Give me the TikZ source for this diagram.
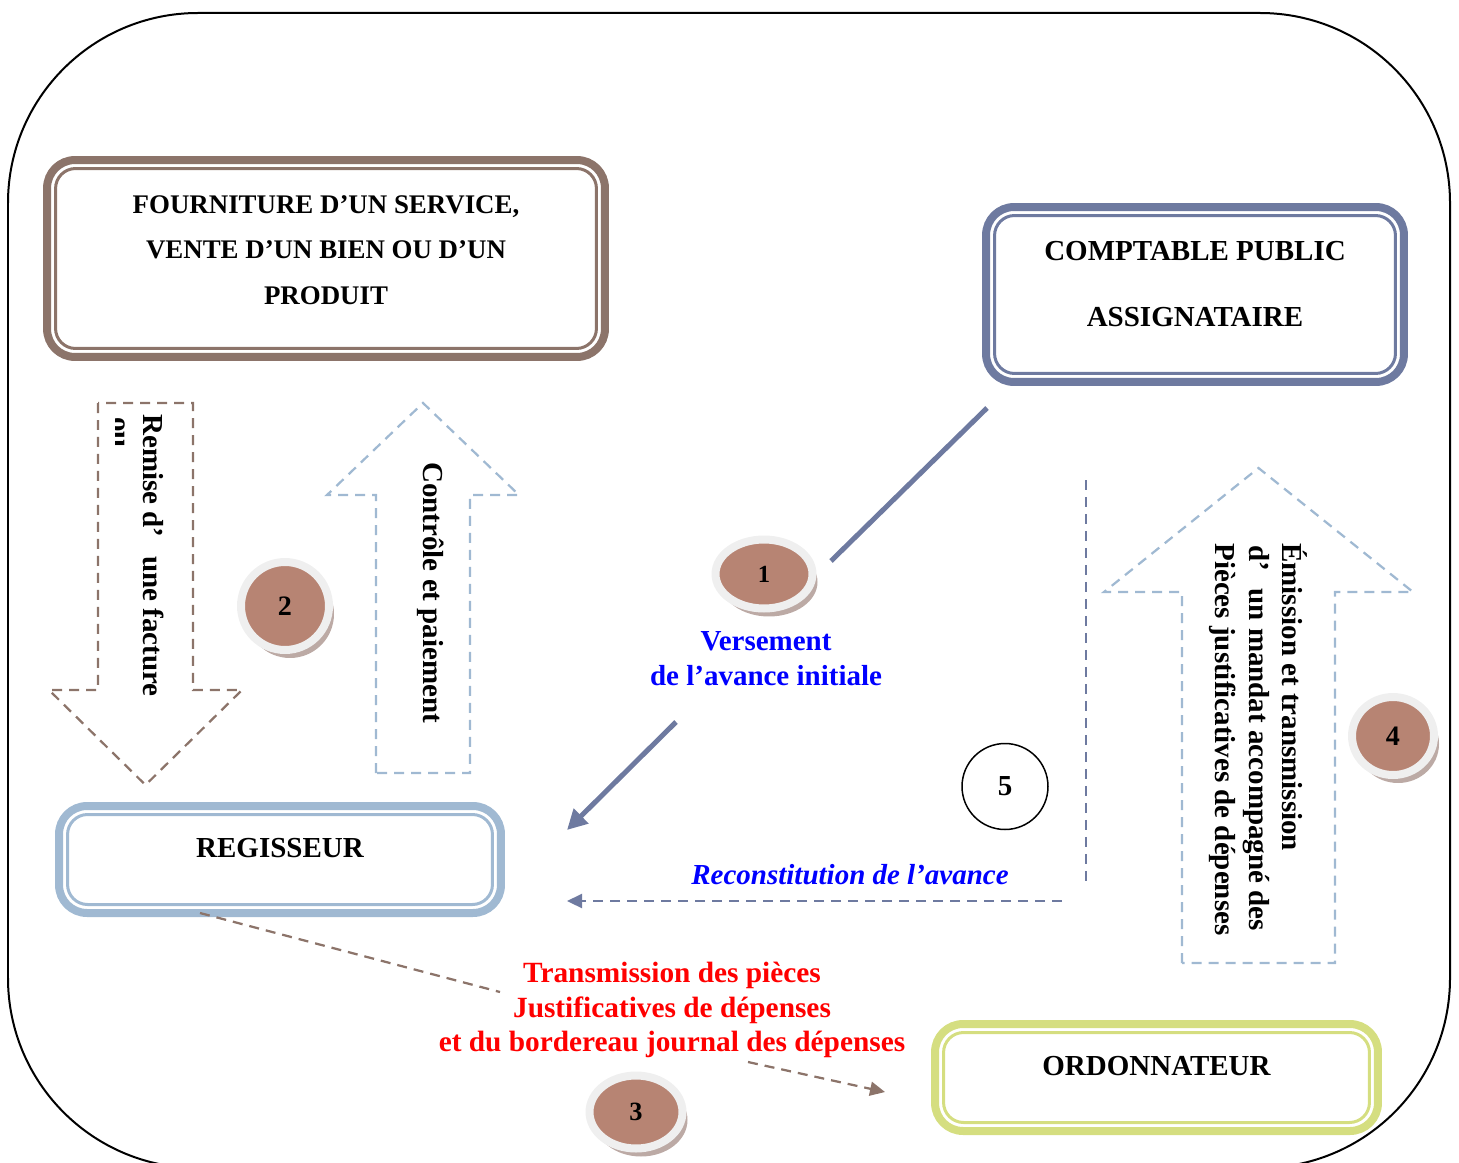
\documentclass[tikz,border=0pt]{standalone}
\usepackage{fontspec}
\setmainfont{Liberation Serif}
\definecolor{boxbrown}{HTML}{8C746A}
\definecolor{boxslate}{HTML}{6E7AA0}
\definecolor{boxsky}{HTML}{A0B9D2}
\definecolor{boxolive}{HTML}{D5DE80}
\definecolor{badgefill}{HTML}{B78473}
\definecolor{badgering}{HTML}{EFEFEF}
\definecolor{badgeshade}{HTML}{BCAAA5}
\usetikzlibrary{arrows.meta, shapes.geometric, shadows, calc}
\newcommand{\innerline}[2]
{
	\draw[draw=#2, line width=0.06cm, rounded corners=0.4cm] ([shift={(0.17cm,-0.17cm)}]#1.north west) rectangle ([shift={(-0.17cm,0.17cm)}]#1.south east)
}
\newcommand{\blockarrow}[7]
{
	\draw[#1] ({#2-#3},#5) -- ({#2-#3},#6) -- ({#2-#4},#6) -- (#2,#7) -- ({#2+#4},#6) -- ({#2+#3},#6) -- ({#2+#3},#5) -- cycle
}

\begin{document}
\begin{tikzpicture}[x=0.02cm, y=-0.02cm,
	boxnode/.style={shape=rectangle, line width=0.16cm, outer sep=0pt, inner sep=0pt, rounded corners=0.56cm},
	boxtext/.style={align=center, inner sep=0pt, font=\bfseries\fontsize{16.5}{20}\selectfont},
	badge/.style={shape=ellipse, fill=badgefill, draw=badgering, line width=0.16cm, inner sep=0pt,
		font=\bfseries\fontsize{16}{18}\selectfont,
		drop shadow={shadow xshift=0.1cm, shadow yshift=-0.16cm, fill=badgeshade, opacity=1}},
	vtext/.style={rotate=-90, anchor=base west, inner sep=0pt, font=\bfseries\fontsize{16.5}{20}\selectfont},
	bluetext/.style={text=blue, align=center, inner sep=0pt, font=\bfseries\fontsize{16.5}{20}\selectfont},
	redtext/.style={text=red, align=center, inner sep=0pt, font=\bfseries\fontsize{16.7}{19.6}\selectfont},
	dashline/.style={line width=0.045cm, dash pattern=on 0.2cm off 0.14cm},
	slateline/.style={draw=boxslate, line width=0.1cm}]

	\useasboundingbox (0,0) rectangle (1459,1162);
	\clip (0,0) rectangle (1459,1162);
	\draw[line width=0.04cm, rounded corners=3.8cm] (8,13) rectangle (1450,1168);

	\node[boxnode, draw=boxbrown, minimum width=11.16cm, minimum height=3.94cm] at (326,258.5) (fourniture){};
	\innerline{fourniture}{boxbrown};
	\node[boxtext, font=\bfseries\fontsize{15.3}{20}\selectfont] at ([yshift=0.17cm]fourniture.center) (fourniture-t){FOURNITURE D’UN SERVICE,\\[6pt]VENTE D’UN BIEN OU D’UN\\[6pt]PRODUIT};

	\node[boxnode, draw=boxslate, minimum width=8.36cm, minimum height=3.5cm] at (1195,294.5) (comptable){};
	\innerline{comptable}{boxslate};
	\node[boxtext] at ([yshift=0.21cm]comptable.center) (comptable-t){COMPTABLE PUBLIC\\[17.5pt]ASSIGNATAIRE};

	\node[boxnode, draw=boxsky, minimum width=8.84cm, minimum height=2.14cm] at (280,859.5) (regisseur){};
	\innerline{regisseur}{boxsky};
	\node[boxtext] at ([yshift=0.23cm]regisseur.center) (regisseur-t){REGISSEUR};

	\node[boxnode, draw=boxolive, minimum width=8.86cm, minimum height=2.14cm] at (1156.5,1077.5) (ordonnateur){};
	\innerline{ordonnateur}{boxolive};
	\node[boxtext] at ([yshift=0.23cm]ordonnateur.center) (ordonnateur-t){ORDONNATEUR};

	\blockarrow{dashline, draw=boxbrown}{145.5}{47.5}{96.5}{403}{690}{785};
	\blockarrow{dashline, draw=boxsky}{423}{47}{96}{773}{495}{403};
	\blockarrow{dashline, draw=boxsky}{1258.5}{76.5}{154.5}{963}{592}{468};

	\node[vtext] at (143,414) (remise){Remise d’\hspace{0.65em}une facture};
	\begin{scope}
		\clip (115,405) rectangle (135,460);
		\node[vtext] at (111,417) (ou){ou};
	\end{scope}
	\node[vtext] at (423,462) (controle){Contrôle et paiement};
	\node[vtext] at (1282,543) (emission){Émission et transmission};
	\node[vtext] at (1249,545) (mandat){d’\hspace{0.6em}un mandat accompagné des};
	\node[vtext] at (1215,543) (pieces){Pièces justificatives de dépenses};

	\node[badge, minimum width=1.94cm, minimum height=1.38cm, font=\bfseries\fontsize{14}{16}\selectfont] at (764,574) (b1){1};
	\node[badge, minimum width=1.76cm, minimum height=1.76cm] at (285,606) (b2){2};
	\node[badge, minimum width=1.86cm, minimum height=1.46cm, font=\bfseries\fontsize{15}{16}\selectfont] at (636,1112) (b3){3};
	\node[badge, minimum width=1.64cm, minimum height=1.56cm] at (1393,736) (b4){4};
	\node[shape=circle, draw=black, line width=0.03cm, minimum size=1.72cm, inner sep=0pt, font=\bfseries\fontsize{16.5}{18}\selectfont] at (1005,786.5) (b5){5};

	\node[bluetext] at (766,659) (versement){Versement\\de l’avance initiale};
	\node[bluetext, font=\bfseries\itshape\fontsize{16.5}{20}\selectfont] at (850,875) (reconstitution){Reconstitution de l’avance};
	\node[redtext] at (672,1010) (transmission){Transmission des pièces\\Justificatives de dépenses\\et du bordereau journal des dépenses};

	\coordinate (cpfoot) at (987,408);
	\coordinate (cphead) at (831,561);
	\coordinate (avfoot) at (676,722);
	\coordinate (avhead) at (567,830);
	\coordinate (rctop) at (1086,480);
	\coordinate (rcbottom) at (1086,883);
	\coordinate (rcstart) at (1062,901);
	\coordinate (rcend) at (567,901);
	\coordinate (regfoot) at (200,913);
	\coordinate (trgapa) at (500,992);
	\coordinate (trgapb) at (748,1062);
	\coordinate (trend) at (885,1092);

	\draw[slateline] (cpfoot) -- (cphead);
	\draw[slateline, -{Triangle[length=0.4cm, width=0.4cm]}] (avfoot) -- (avhead);
	\draw[dashline, draw=boxslate] (rctop) -- (rcbottom);
	\draw[dashline, draw=boxslate, -{Triangle[length=0.3cm, width=0.28cm]}] (rcstart) -- (rcend);
	\draw[dashline, draw=boxbrown] (regfoot) -- (trgapa);
	\draw[dashline, draw=boxbrown, -{Triangle[length=0.3cm, width=0.28cm]}] (trgapb) -- (trend);
\end{tikzpicture}
\end{document}
